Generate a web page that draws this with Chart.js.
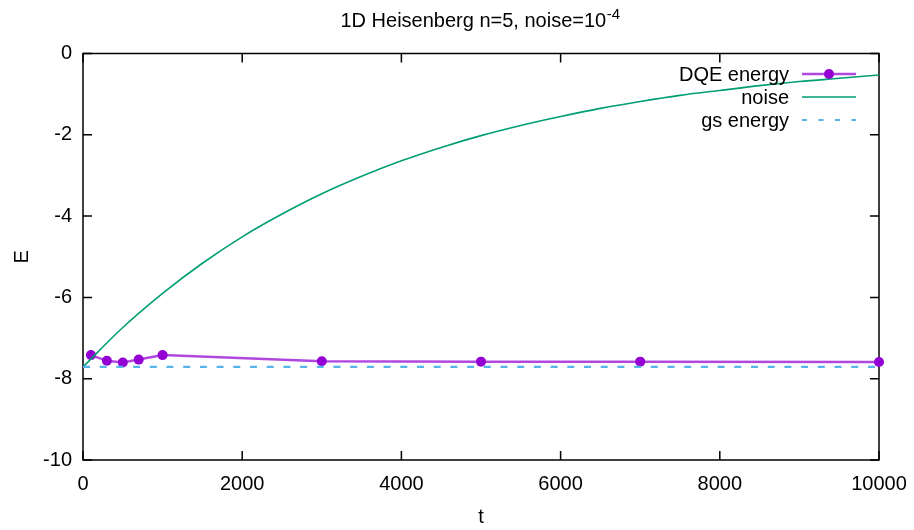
<!DOCTYPE html>
<html><head><meta charset="utf-8">
<script src="https://cdn.jsdelivr.net/npm/chart.js@4/dist/chart.umd.min.js"></script>
<style>html,body{margin:0;padding:0;background:#fff}#wrap{width:914px;height:530px}</style>
</head><body><div id="wrap"><canvas id="c" width="914" height="530"></canvas></div>
<script>
const dqeT = [100, 300, 500, 700, 1000, 3000, 5000, 7000, 10000];
const dqeE = [-7.42, -7.56, -7.60, -7.53, -7.42, -7.57, -7.58, -7.58, -7.59];
const noiseT = [0, 500, 1000, 1500, 2000, 2500, 3000, 3500, 4000, 4500, 5000, 5500, 6000, 6500, 7000, 7500, 8000, 8500, 9000, 9500, 10000];
const noiseE = [-7.71, -6.74, -5.90, -5.16, -4.51, -3.95, -3.45, -3.02, -2.64, -2.31, -2.02, -1.77, -1.55, -1.35, -1.18, -1.03, -0.91, -0.79, -0.69, -0.61, -0.53];
const gsT = [0, 10000];
const gsE = [-7.71, -7.71];
const xTicks = [0, 2000, 4000, 6000, 8000, 10000];
const yTicks = [0, -2, -4, -6, -8, -10];
const titleMain = '1D Heisenberg n=5, noise=10';
const titleSup = '-4';
const seriesNames = ['DQE energy', 'noise', 'gs energy'];
const xTitle = 't';
const yTitle = 'E';

const FONT = '"Liberation Sans", Arial, sans-serif';
const FS = 20;
const C_DQE = '#9400D3', C_DQE_LINE = 'rgba(148,0,211,0.72)', C_NOISE = '#009E73', C_GS = '#56B4E9';

const pts = (xs, ys) => xs.map((x, i) => ({x, y: ys[i]}));
const noPad = s => { s.paddingLeft = 0; s.paddingRight = 0; s.paddingTop = 0; s.paddingBottom = 0; };

const framePlugin = {
  id: 'frame',
  beforeDatasetsDraw(chart) {
    const {ctx, chartArea: a, scales: {x, y}} = chart;
    ctx.save();
    ctx.strokeStyle = '#000';
    ctx.lineWidth = 1.5;
    const L = 9;
    ctx.beginPath();
    xTicks.forEach(v => {
      const px = x.getPixelForValue(v);
      ctx.moveTo(px, a.bottom); ctx.lineTo(px, a.bottom - L);
      ctx.moveTo(px, a.top); ctx.lineTo(px, a.top + L);
    });
    yTicks.forEach(v => {
      const py = y.getPixelForValue(v);
      ctx.moveTo(a.left, py); ctx.lineTo(a.left + L, py);
      ctx.moveTo(a.right, py); ctx.lineTo(a.right - L, py);
    });
    ctx.stroke();
    ctx.strokeRect(a.left, a.top, a.right - a.left, a.bottom - a.top);
    ctx.restore();
  },
  afterDraw(chart) {
    const {ctx} = chart;
    ctx.save();
    ctx.fillStyle = '#000';
    ctx.textBaseline = 'alphabetic';
    ctx.font = FS + 'px ' + FONT;
    const wMain = ctx.measureText(titleMain).width;
    ctx.font = '15px ' + FONT;
    const wSup = ctx.measureText(titleSup).width;
    const x0 = 480 - (wMain + wSup) / 2;
    ctx.font = FS + 'px ' + FONT;
    ctx.textAlign = 'left';
    ctx.fillText(titleMain, x0, 27);
    ctx.font = '15px ' + FONT;
    ctx.fillText(titleSup, x0 + wMain + 0.5, 19);

    ctx.font = FS + 'px ' + FONT;
    ctx.textAlign = 'right';
    const rows = [74, 97, 120];
    const lx0 = 802, lx1 = 856, tx = 789;
    rows.forEach((ry, i) => ctx.fillText(seriesNames[i], tx, ry + 7));
    ctx.lineWidth = 2.5;
    ctx.strokeStyle = C_DQE_LINE;
    ctx.beginPath(); ctx.moveTo(lx0, rows[0]); ctx.lineTo(lx1, rows[0]); ctx.stroke();
    ctx.fillStyle = C_DQE;
    ctx.beginPath(); ctx.arc((lx0 + lx1) / 2, rows[0], 5, 0, Math.PI * 2); ctx.fill();
    ctx.lineWidth = 1.6;
    ctx.strokeStyle = C_NOISE;
    ctx.beginPath(); ctx.moveTo(lx0, rows[1]); ctx.lineTo(lx1, rows[1]); ctx.stroke();
    ctx.lineWidth = 2;
    ctx.strokeStyle = C_GS;
    ctx.setLineDash([5, 11.5]);
    ctx.beginPath(); ctx.moveTo(lx0, rows[2]); ctx.lineTo(lx1, rows[2]); ctx.stroke();
    ctx.restore();
  }
};

new Chart(document.getElementById('c'), {
  type: 'line',
  data: {
    datasets: [
      {label: seriesNames[2], data: pts(gsT, gsE), borderColor: C_GS, borderWidth: 2.2, borderDash: [7, 9.7], pointRadius: 0, fill: false},
      {label: seriesNames[1], data: pts(noiseT, noiseE), borderColor: C_NOISE, borderWidth: 1.6, pointRadius: 0, cubicInterpolationMode: 'monotone', fill: false},
      {label: seriesNames[0], data: pts(dqeT, dqeE), borderColor: C_DQE_LINE, borderWidth: 2.5, pointRadius: 5, pointBackgroundColor: C_DQE, pointBorderWidth: 0, pointBorderColor: C_DQE, fill: false, clip: false}
    ]
  },
  options: {
    responsive: false,
    devicePixelRatio: 1,
    animation: false,
    events: [],
    layout: {padding: {top: 53.5, right: 35, left: 0, bottom: 0}},
    plugins: {legend: {display: false}, tooltip: {enabled: false}, title: {display: false}},
    scales: {
      x: {
        type: 'linear', min: 0, max: 10000,
        afterBuildTicks: s => { s.ticks = xTicks.map(v => ({value: v})); },
        afterFit: s => { s.height = 70; noPad(s); },
        grid: {display: false, drawTicks: false},
        border: {display: false},
        ticks: {color: '#000', font: {family: FONT, size: FS}, padding: 12, maxRotation: 0, callback: v => String(v)},
        title: {display: true, text: xTitle, color: '#000', font: {family: FONT, size: FS}, padding: {top: 0, bottom: 1}}
      },
      y: {
        type: 'linear', min: -10, max: 0,
        afterBuildTicks: s => { s.ticks = yTicks.map(v => ({value: v})); },
        afterFit: s => { s.width = 83; noPad(s); },
        grid: {display: false, drawTicks: false},
        border: {display: false},
        ticks: {color: '#000', font: {family: FONT, size: FS}, padding: 11, callback: v => String(v)},
        title: {display: true, text: yTitle, color: '#000', font: {family: FONT, size: FS}, padding: {top: 10, bottom: 0}}
      }
    }
  },
  plugins: [framePlugin]
});
</script>
</body></html>
